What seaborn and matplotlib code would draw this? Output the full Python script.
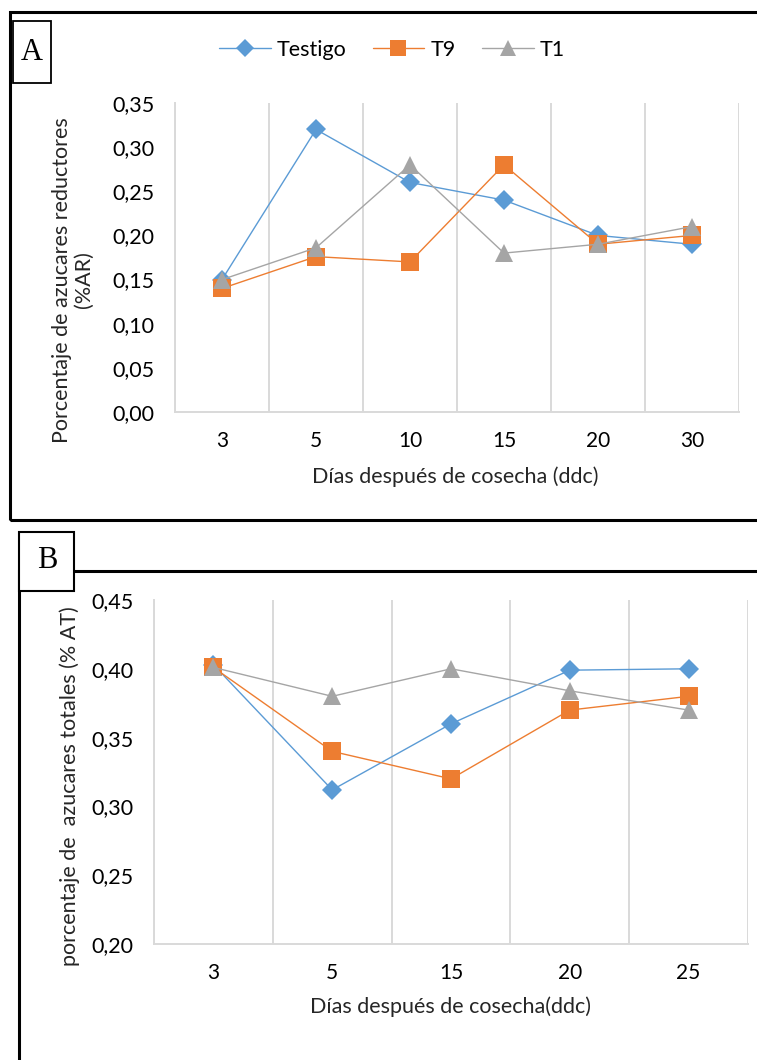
import matplotlib
matplotlib.use("Agg")
import matplotlib.pyplot as plt
import numpy as np
import pandas as pd
import seaborn as sns
from matplotlib.lines import Line2D
from matplotlib.patches import Rectangle


SERIES = ["Testigo", "T9", "T1"]
COLORS = {"Testigo": "#5B9BD5", "T9": "#ED7D31", "T1": "#A5A5A5"}
MARKERS = {"Testigo": "D", "T9": "s", "T1": "^"}
MSIZE = {"D": 10.5, "s": 12.5, "^": 13}

# panel A: azucares reductores
days_a = ["3", "5", "10", "15", "20", "30"]
testigo_a = [0.15, 0.32, 0.26, 0.24, 0.20, 0.19]
t9_a = [0.14, 0.176, 0.17, 0.28, 0.19, 0.20]
t1_a = [0.15, 0.186, 0.28, 0.18, 0.19, 0.21]
yticks_a = [0.00, 0.05, 0.10, 0.15, 0.20, 0.25, 0.30, 0.35]

# panel B: azucares totales
days_b = ["3", "5", "15", "20", "25"]
testigo_b = [0.403, 0.312, 0.36, 0.399, 0.40]
t9_b = [0.401, 0.34, 0.32, 0.37, 0.38]
t1_b = [0.401, 0.38, 0.40, 0.384, 0.37]
yticks_b = [0.20, 0.25, 0.30, 0.35, 0.40, 0.45]

W, H = 757, 1060


def long_frame(days, values):
    rows = []
    for name, vals in zip(SERIES, values):
        for i, (d, v) in enumerate(zip(days, vals)):
            rows.append({"pos": i, "dia": d, "serie": name, "valor": v})
    return pd.DataFrame(rows)


def px(x0, y0, x1, y1):
    # pixel box -> figure fraction rect
    return [x0 / W, 1 - y1 / H, (x1 - x0) / W, (y1 - y0) / H]


def draw_panel(ax, days, values, yticks, ylabel, xlabel, ylab_xy, xlab_xy):
    df = long_frame(days, values)
    sns.lineplot(
        data=df, x="pos", y="valor", hue="serie", style="serie",
        hue_order=SERIES, style_order=SERIES, palette=COLORS,
        markers=MARKERS, dashes=False, linewidth=1.0,
        markersize=10, markeredgewidth=0, legend=False, ax=ax,
    )
    for line in ax.lines:
        m = line.get_marker()
        if m in MSIZE:
            line.set_markersize(MSIZE[m])
    n = len(days)
    ax.set_xlim(-0.5, n - 0.5)
    ax.set_ylim(yticks[0], yticks[-1])
    ax.set_xticks(range(n))
    ax.set_xticklabels(days)
    ax.set_xticks(np.arange(-0.5, n, 1.0), minor=True)
    ax.grid(False)
    ax.grid(True, which="minor", axis="x", color="#D9D9D9", linewidth=1.4)
    ax.set_yticks(yticks)
    ax.set_yticklabels([f"{t:.2f}".replace(".", ",") for t in yticks])
    ax.tick_params(which="both", length=0)
    ax.tick_params(axis="y", pad=15, labelsize=15.5)
    ax.tick_params(axis="x", pad=14, labelsize=15)
    for side in ["top", "right"]:
        ax.spines[side].set_visible(False)
    for side in ["left", "bottom"]:
        ax.spines[side].set_color("#D9D9D9")
        ax.spines[side].set_linewidth(1.4)
    ax.set_xlabel(xlabel, fontsize=15.5)
    ax.set_ylabel(ylabel, fontsize=15.5, linespacing=1.15)
    ax.yaxis.set_label_coords(*ylab_xy)
    ax.xaxis.set_label_coords(*xlab_xy)
    ax.xaxis.label.set_va("center")
    ax.yaxis.label.set_va("center")


sns.set_theme(style="white")
plt.rcParams["font.family"] = ["Lato", "DejaVu Sans"]
plt.rcParams["text.color"] = "#000000"
plt.rcParams["xtick.color"] = "#000000"
plt.rcParams["ytick.color"] = "#000000"

fig = plt.figure(figsize=(W / 100, H / 100), dpi=100)
fig.patch.set_facecolor("white")

# panel frames
fig.add_artist(Rectangle((10 / W, 1 - 520 / H), 760 / W, 508 / H, transform=fig.transFigure,
                         fill=False, edgecolor="black", linewidth=2.2))
fig.add_artist(Rectangle((13 / W, 1 - 83 / H), 38 / W, 62 / H, transform=fig.transFigure,
                         facecolor="white", edgecolor="black", linewidth=1.3, zorder=5))
fig.text(32 / W, 1 - 52 / H, "A", fontsize=22, family="Liberation Serif", ha="center", va="center", zorder=6)

fig.add_artist(Rectangle((19 / W, 1 - 1100 / H), 760 / W, 529 / H, transform=fig.transFigure,
                         fill=False, edgecolor="black", linewidth=2.2))
fig.add_artist(Rectangle((19 / W, 1 - 591 / H), 55 / W, 59 / H, transform=fig.transFigure,
                         facecolor="white", edgecolor="black", linewidth=1.5, zorder=5))
fig.text(47 / W, 1 - 561 / H, "B", fontsize=22, family="Liberation Serif", ha="center", va="center", zorder=6)

ax_a = fig.add_axes(px(175, 103, 739, 412))
draw_panel(
    ax_a, days_a, [testigo_a, t9_a, t1_a], yticks_a,
    "Porcentaje de azucares reductores\n(%AR)", "Días después de cosecha (ddc)",
    ((73 - 175) / 564, (412 - 280) / 309), ((455 - 175) / 564, (412 - 477) / 309),
)

ax_b = fig.add_axes(px(154, 600, 748, 944))
draw_panel(
    ax_b, days_b, [testigo_b, t9_b, t1_b], yticks_b,
    "porcentaje de  azucares totales (% AT)", "Días después de cosecha(ddc)",
    ((70 - 154) / 594, (944 - 786) / 344), ((450 - 154) / 594, (944 - 1007) / 344),
)

handles = [
    Line2D([], [], color=COLORS[s], marker=MARKERS[s], markersize=MSIZE[MARKERS[s]] - 1,
           markeredgewidth=0, linewidth=1.0)
    for s in SERIES
]
fig.legend(handles, SERIES, loc="center", bbox_to_anchor=(392 / W, 1 - 50 / H), ncol=3,
           frameon=False, fontsize=15.5, handlelength=2.4, columnspacing=1.2, handletextpad=0.3)

fig.savefig("out.png", dpi=100, facecolor="white")
